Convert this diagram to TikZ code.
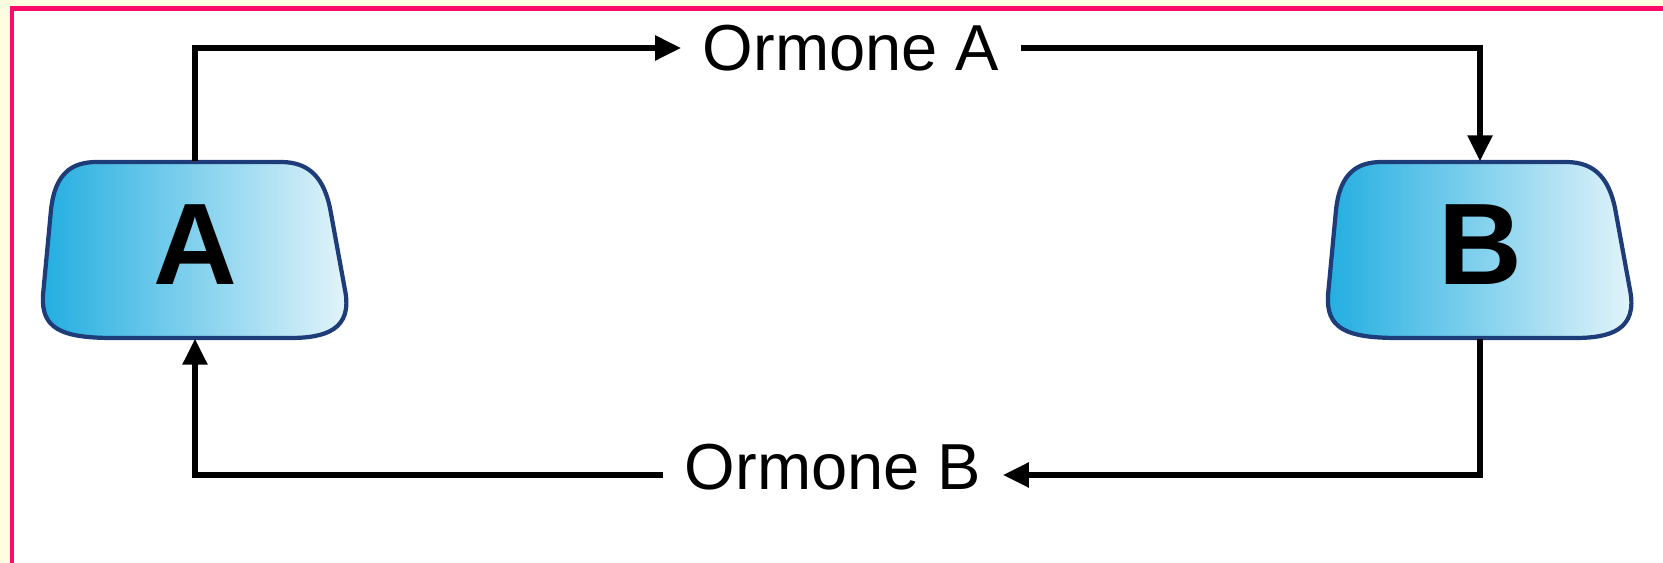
\documentclass[tikz,border=0pt]{standalone}
\usepackage{fontspec}
\setmainfont{Liberation Sans}
\usepackage{tikz}
\usetikzlibrary{arrows.meta, positioning}

\definecolor{frameyellow}{HTML}{FFFDE0}
\definecolor{framepink}{HTML}{FF0A6A}
\definecolor{glandedge}{HTML}{1E3C78}
\definecolor{glandleft}{HTML}{22AEE0}
\definecolor{glandmid}{HTML}{7FCEDC}
\definecolor{glandright}{HTML}{E6F5FB}

\tikzset{
  gland/.style={minimum width=3.04cm, minimum height=1.76cm, inner sep=0pt,
    text depth=1mm, font=\fontsize{33}{36}\selectfont\bfseries},
  glandbody/.style={draw=glandedge, line width=1.2pt,
    left color=glandleft, middle color=glandmid, right color=glandright},
  hormone/.style={font=\fontsize{18.5}{22}\selectfont, inner xsep=6pt, inner ysep=2pt},
  flow/.style={line width=1.6pt, -{Triangle[length=2.6mm, width=2.4mm]}}
}

% rounded, slightly flared outline of a gland around a coordinate
\newcommand{\glandshape}[1]{%
  \draw[glandbody, shift={(#1)}] (-0.98,0.88) -- (0.86,0.88)
    .. controls (1.16,0.88) and (1.29,0.70) .. (1.35,0.42)
    -- (1.50,-0.40)
    .. controls (1.58,-0.80) and (1.30,-0.88) .. (0.95,-0.88)
    -- (-0.82,-0.88)
    .. controls (-1.35,-0.88) and (-1.54,-0.78) .. (-1.52,-0.45)
    -- (-1.44,0.40)
    .. controls (-1.40,0.78) and (-1.22,0.88) .. (-0.98,0.88) -- cycle;}

\begin{document}
\begin{tikzpicture}
    % Frame
    \fill[frameyellow] (0,0) rectangle (16.63,5.63);
    \useasboundingbox (0,0) rectangle (16.63,5.63);
    \fill[white] (0.12,0) rectangle (16.63,5.545);
    \draw[framepink, line width=1.2pt] (0.12,0) -- (0.12,5.545) -- (16.63,5.545);

    % Glands
    \coordinate (cA) at (1.95,3.13);
    \coordinate (cB) at (14.80,3.13);
    \glandshape{cA}
    \glandshape{cB}
    \node[gland] (A) at (cA) {A};
    \node[gland] (B) at (cB) {B};

    % Hormones
    \node[hormone] (ormA) at (8.51,5.15) {Ormone A};
    \node[hormone] (ormB) at (8.33,0.96) {Ormone B};

    \draw[flow] (A.north) |- (ormA.west);
    \draw[flow] (ormA.east) -| (B.north);
    \draw[flow] (B.south) |- ([yshift=-0.8mm]ormB.east);
    \draw[flow] ([yshift=-0.8mm]ormB.west) -| (A.south);
\end{tikzpicture}
\end{document}
